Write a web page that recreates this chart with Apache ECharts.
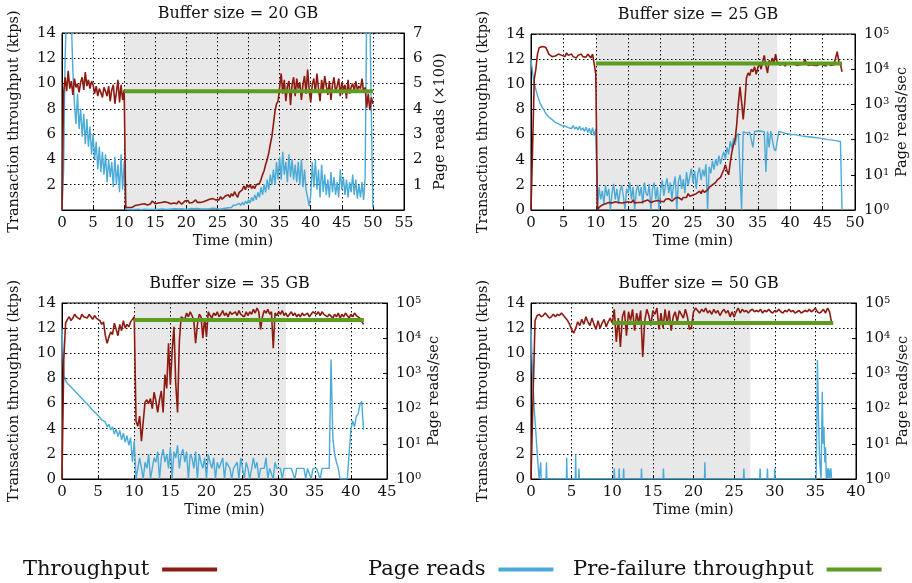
<!DOCTYPE html>
<html>
<head>
<meta charset="utf-8">
<script src="https://cdn.jsdelivr.net/npm/echarts@6/dist/echarts.min.js"></script>
<style>
  html, body { margin: 0; padding: 0; background: #fff; }
  #main { width: 912px; height: 583px; }
</style>
</head>
<body>
<div id="main"></div>
<script>
// samples every 0.25 min
var STEP = 0.25

var titles = ['Buffer size = 20 GB', 'Buffer size = 25 GB', 'Buffer size = 35 GB', 'Buffer size = 50 GB']
var timeMax = [55, 50, 45, 40]

// 20 GB: throughput (ktps) and page reads (x100)
var tp20 = [
  0, 9.2, 10.5, 9.4,  11.0, 9.6, 10.2, 9.1,  10.4, 9.7, 10.0, 9.3,  10.1, 10.5, 9.5, 10.9,
  9.8, 10.3, 9.6, 10.2,  9.9, 9.2, 9.8, 9.0,  9.6, 9.3, 8.9, 9.7,  9.4, 9.0, 9.8, 8.6,
  9.5, 9.9, 8.4, 9.3,  10.3, 8.5, 9.9, 8.7,  9.5, 0.2, 0.1, 0.2,  0.25, 0.2, 0.3, 0.35,
  0.3, 0.4, 0.35, 0.45,  0.4, 0.5, 0.45, 0.4,  0.55, 0.5, 0.7, 0.6,  0.5, 0.6, 0.55, 0.7,
  0.6, 0.5, 0.65, 0.55,  0.6, 0.7, 0.5, 0.6,  0.55, 0.65, 0.5, 0.7,  0.6, 0.45, 0.55, 0.7,
  0.6, 0.75, 0.55, 0.65,  0.6, 0.7, 0.8, 0.6,  0.7, 0.6, 0.75, 0.65,  0.6, 0.75, 0.7, 0.85,
  0.7, 0.9, 0.75, 0.8,  0.95, 0.8, 1.05, 0.85,  0.9, 1.1, 0.95, 1.2,  1.0, 1.3, 1.1, 1.45,
  1.2, 1.0, 1.4, 1.3,  1.6, 1.9, 1.6, 2.0,  1.8, 2.0, 1.7, 1.9,  1.7, 2.0, 1.9, 2.1,
  2.4, 2.8, 3.1, 3.6,  4.0, 4.5, 5.2, 5.8,  6.8, 7.8, 8.4, 8.6,  8.5, 10.8, 9.2, 10.3,
  8.6, 9.8, 10.2, 8.3,  9.9, 10.5, 9.0, 10.4,  9.6, 10.1, 8.7, 9.9,  10.6, 9.2, 11.1, 9.5,
  8.5, 9.9, 10.4, 9.3,  10.8, 9.6, 8.6, 10.3,  9.4, 10.6, 9.8, 9.1,  10.2, 8.7, 9.9, 10.5,
  9.3, 9.8, 10.4, 9.0,  10.1, 9.5, 9.9, 8.8,  10.3, 9.2, 9.7, 10.0,  9.4, 10.2, 9.5, 9.8,
  9.6, 10.4, 9.3, 9.7,  8.1, 9.2, 7.9, 8.9,  8.4
]
var pr20 = [
  0, 1.5, 6, 8,  8, 8, 7.5, 5.5,  4.2, 3.4, 4.6, 3.2,  4.0, 2.9, 3.8, 2.6,
  3.6, 2.5, 3.3, 2.2,  3.0, 2.0, 2.7, 1.6,  2.5, 1.5, 2.3, 1.4,  2.2, 1.1, 2.0, 1.3,
  1.9, 0.9, 2.1, 1.0,  1.8, 0.7, 2.2, 0.8,  1.9, 0.03, 0.0, 0.02,  0.02, 0.01, 0.03, 0.02,
  0.01, 0.03, 0.02, 0.01,  0.02, 0.03, 0.01, 0.02,  0.03, 0.02, 0.04, 0.02,  0.03, 0.02, 0.04, 0.03,
  0.02, 0.04, 0.03, 0.02,  0.04, 0.03, 0.02, 0.04,  0.03, 0.05, 0.03, 0.04,  0.03, 0.05, 0.04, 0.03,
  0.05, 0.03, 0.04, 0.06,  0.04, 0.05, 0.03, 0.06,  0.05, 0.04, 0.06, 0.04,  0.06, 0.04, 0.07, 0.05,
  0.05, 0.07, 0.04, 0.06,  0.06, 0.04, 0.08, 0.05,  0.1, 0.07, 0.12, 0.09,  0.15, 0.1, 0.18, 0.12,
  0.2, 0.14, 0.26, 0.18,  0.3, 0.2, 0.35, 0.25,  0.4, 0.28, 0.5, 0.35,  0.6, 0.4, 0.7, 0.5,
  0.9, 0.6, 1.0, 0.7,  1.2, 0.8, 1.4, 1.0,  1.6, 1.0, 1.9, 1.2,  2.1, 1.2, 2.3, 1.4,
  1.9, 1.1, 2.2, 1.3,  2.0, 1.2, 1.8, 1.1,  1.9, 1.0, 2.0, 0.9,  1.6, 0.8, 0.5, 0.15,
  0.6, 1.9, 0.9, 2.0,  0.8, 1.6, 0.5, 1.8,  0.7, 1.4, 0.6, 1.2,  0.5, 1.5, 0.7, 1.3,
  0.6, 1.1, 0.5, 1.6,  0.8, 1.3, 0.6, 1.2,  0.5, 1.1, 0.7, 1.4,  0.6, 1.2, 0.45, 1.0,
  0.5, 1.1, 0.4, 1.3,  8, 8, 8, 3.8,  0.1
]

// 25 GB: throughput (ktps) and page reads/sec
var tp25 = [
  0, 5.0, 10.4, 11.2,  12.4, 12.9, 12.8, 13.0,  12.9, 12.95, 12.7, 12.4,  12.3, 12.2, 12.35, 12.25,
  12.2, 12.4, 12.25, 12.3,  12.35, 12.2, 12.5, 12.3,  12.25, 12.4, 12.2, 12.35,  12.1, 12.3, 12.2, 12.4,
  12.2, 12.3, 12.15, 12.4,  12.25, 12.1, 12.4, 11.6,  10.8, 0.0, 0.2, 0.35,  0.4, 0.55, 0.5, 0.65,
  0.6, 0.7, 0.55, 0.7,  0.65, 0.75, 0.6, 0.7,  0.55, 0.7, 0.6, 0.5,  0.65, 0.75, 0.6, 0.8,
  0.55, 0.7, 0.6, 0.75,  0.6, 0.5, 0.7, 0.6,  0.8, 0.7, 0.6, 0.75,  0.7, 0.55, 0.75, 0.6,
  0.7, 0.8, 0.65, 0.85,  0.75, 0.9, 0.8, 0.7,  0.85, 0.95, 0.8, 1.0,  0.9, 0.8, 1.0, 1.1,
  1.0, 1.3, 1.1, 1.0,  1.2, 1.1, 1.3, 1.25,  1.5, 1.3, 1.6, 1.4,  1.5, 1.6, 1.8, 1.7,
  2.0, 1.9, 2.2, 2.4,  2.3, 2.6, 2.9, 3.2,  3.6, 3.1, 2.8, 3.8,  4.6, 5.2, 5.6, 6.8,
  8.5, 9.8, 8.6, 7.2,  8.6, 10.5, 10.9, 10.7,  11.2, 11.0, 11.4, 10.8,  11.3, 11.7, 11.2, 11.8,
  12.3, 11.5, 10.9, 11.9,  11.6, 12.1, 11.7, 12.4,  11.7, 11.6, 11.5, 11.7,  11.6, 11.45, 11.7, 11.55,
  11.6, 11.5, 11.7, 11.6,  11.5, 11.65, 11.55, 11.7,  11.6, 12.0, 11.7, 11.5,  11.6, 11.55, 11.7, 11.5,
  11.65, 11.5, 11.6, 11.75,  11.55, 11.6, 11.45, 11.7,  11.6, 11.5, 11.65, 11.55,  11.7, 12.6, 11.8, 11.6,
  11.0
]
var pr25 = [
  19000, 8000, 4000, 2600,  1800, 1300, 1000, 820,  700, 560, 540, 440,  430, 370, 380, 310,
  330, 280, 300, 250,  275, 240, 260, 220,  245, 205, 250, 200,  230, 190, 240, 185,
  215, 170, 225, 160,  210, 140, 220, 130,  200, 1, 4.5, 2,  3.5, 1.5, 5, 2.5,
  4, 1, 3, 5.5,  2, 4, 1.5, 3.5,  5, 2.5, 1, 4,  3, 6, 2, 4.5,
  1, 3.5, 5, 2.5,  4.5, 1.5, 6, 3,  2.5, 5.5, 1, 4,  6, 2, 4.5, 1,
  3.5, 7, 2.5, 5,  8, 3, 6, 2,  5, 9, 1, 6.5,  10, 4, 7.5, 3,
  12, 5, 9, 15,  6, 13, 4, 11,  16, 7, 14, 9,  20, 1, 17, 11,
  25, 14, 28, 18,  35, 20, 32, 45,  28, 60, 38, 90,  55, 110, 70, 130,
  150, 160, 1, 165,  170, 155, 175, 160,  165, 60, 170, 158,  175, 160, 172, 165,
  168, 12, 170, 60,  175, 160, 55, 48,  50, 170, 175, 160,  165, 150, 162, 145,
  155, 140, 150, 138,  145, 132, 150, 128,  140, 125, 135, 120,  132, 118, 128, 115,
  125, 112, 120, 108,  118, 105, 115, 100,  110, 98, 106, 95,  104, 92, 100, 88,
  1
]

// 35 GB
var tp35 = [
  0, 9.5, 12.4, 12.7,  12.9, 12.6, 12.8, 13.1,  12.9, 13.0, 12.7, 13.1,  12.9, 13.0, 12.8, 13.1,
  12.9, 12.7, 13.0, 12.8,  12.9, 12.6, 12.3, 12.5,  11.4, 10.8, 11.3, 11.7,  11.5, 12.4, 11.9, 11.4,
  12.3, 11.8, 12.6, 12.0,  12.3, 12.1, 12.5, 12.7,  12.9, 4.6, 4.2, 5.0,  3.0, 4.6, 6.1, 6.3,
  6.0, 6.4, 5.6, 6.9,  6.2, 5.3, 6.3, 7.0,  5.3, 8.3, 7.2, 10.8,  7.5, 10.2, 12.1, 7.6,
  5.3, 11.0, 12.9, 13.0,  12.7, 13.2, 12.9, 13.3,  13.0, 12.6, 10.8, 12.3,  13.1, 12.9, 11.2, 12.8,
  11.3, 13.3, 13.0, 12.8,  13.2, 13.0, 13.3, 12.9,  13.1, 13.4, 13.0, 13.2,  12.9, 13.3, 13.1, 13.0,
  13.3, 13.0, 13.4, 13.1,  13.2, 12.9, 13.3, 13.0,  13.3, 13.1, 13.5, 13.2,  13.6, 13.3, 11.9, 12.9,
  13.4, 13.2, 13.5, 13.1,  13.3, 10.4, 13.2, 13.0,  13.3, 13.1, 13.4, 13.0,  13.2, 12.9, 13.1, 13.3,
  13.0, 13.2, 12.9, 13.1,  12.9, 13.2, 13.0, 13.1,  13.2, 12.9, 13.1, 13.3,  13.2, 13.1, 13.3, 13.0,
  13.3, 13.1, 13.2, 12.9,  13.1, 13.0, 12.8, 13.1,  12.9, 13.2, 12.8, 13.1,  12.9, 13.2, 13.0, 12.8,
  13.1, 12.9, 13.2, 13.0,  13.1, 12.8, 12.9, 12.3
]
var pr35 = [
  19000, 900, 620, 520,  470, 410, 360, 320,  280, 250, 220, 195,  170, 150, 135, 118,
  105, 90, 80, 72,  64, 55, 48, 44,  42, 30, 36, 25,  30, 19, 26, 16,
  24, 13, 20, 11,  17, 9, 15, 3,  12, 1, 2, 4,  2, 1, 3, 2,
  5, 1, 2, 4,  3, 6, 1, 4,  7, 3, 5, 2,  8, 1, 6, 4,
  9, 2, 5, 7,  3, 6, 1, 5,  4, 2, 6, 1,  5, 3, 2, 4,
  1, 5, 3, 2,  4, 1, 3, 2,  2, 4, 1, 3,  3, 2, 1, 2,
  2, 3, 1, 4,  2, 1, 3, 2,  1, 2, 4, 2,  3, 1, 2, 2,
  2, 4, 1, 2,  2, 1, 3, 2,  2, 2, 1, 2,  2, 2, 2, 2,
  2, 1, 2, 2,  2, 2, 2, 1,  2, 2, 1, 2,  2, 2, 2, 1,
  2, 2, 2, 2,  2, 2500, 15, 5,  3, 2, 1, 1,  1, 1, 1, 5,
  25, 45, 30, 60,  70, 130, 160, 25
]

// 50 GB
var tp50 = [
  0, 6.5, 12.6, 13.0,  13.1, 12.9, 13.0, 13.2,  13.0, 12.8, 12.9, 13.1,  12.9, 13.1, 13.0, 13.2,
  13.0, 12.8, 12.6, 12.3,  11.9, 11.6, 12.0, 12.5,  12.2, 12.7, 12.3, 12.9,  12.5, 12.2, 12.8, 12.3,
  11.9, 12.6, 12.0, 12.4,  12.7, 12.1, 12.5, 12.8,  12.4, 13.5, 10.9, 12.8,  10.5, 12.9, 13.4, 11.4,
  13.3, 12.6, 13.5, 11.8,  13.2, 12.4, 13.4, 9.7,  12.6, 13.5, 13.0, 12.2,  13.4, 13.1, 13.6, 11.9,
  13.2, 12.0, 13.5, 12.3,  13.4, 11.8, 12.9, 13.3,  12.5, 13.4, 13.1, 12.8,  13.5, 12.9, 11.9, 12.1,
  13.3, 13.6, 13.4, 13.2,  13.5, 13.3, 13.6, 13.2,  13.4, 13.1, 13.5, 13.2,  13.4, 13.0, 13.3, 13.5,
  13.2, 13.4, 12.9, 13.3,  12.9, 13.3, 13.6, 13.2,  13.5, 13.3, 13.4, 13.2,  13.4, 13.5, 13.3, 13.4,
  13.3, 13.5, 13.2, 13.4,  13.3, 13.5, 13.3, 13.2,  13.4, 13.3, 13.5, 13.3,  13.2, 13.4, 13.3, 13.5,
  13.3, 13.4, 13.2, 13.3,  13.4, 13.2, 13.3, 13.4,  13.3, 13.5, 13.3, 13.4,  13.6, 13.3, 13.2, 13.3,
  13.5, 13.2, 13.6, 13.3,  12.4
]
// sparse, so [min, page reads/sec]
var pr50 = [
  [0, 19000], [0.2, 800], [0.4, 100], [0.6, 20], [0.75, 6], [0.9, 2], [1.0, 1], [1.15, 1], [1.2, 3], [1.25, 1],
  [1.85, 1], [1.9, 3], [1.95, 1], [4.35, 1], [4.4, 4], [4.45, 1], [5.45, 1], [5.5, 5], [5.55, 1],
  [5.85, 1], [5.9, 2], [5.95, 1], [10.2, 1], [10.25, 2], [10.3, 1], [10.8, 1], [10.85, 2], [10.9, 1],
  [11.35, 1], [11.4, 2], [11.45, 1], [13.55, 1], [13.6, 2], [13.65, 1], [16.25, 1], [16.3, 2], [16.35, 1],
  [21.35, 1], [21.4, 3], [21.45, 1], [26.15, 1], [26.2, 2], [26.25, 1], [28.15, 1], [28.2, 2], [28.25, 1],
  [29.05, 1], [29.1, 2], [29.15, 1], [29.95, 1], [30.0, 2], [30.05, 1], [35.1, 1], [35.25, 2400], [35.4, 40],
  [35.5, 5], [35.6, 2], [35.7, 1], [35.85, 300], [35.95, 10], [36.05, 30], [36.15, 3], [36.25, 8], [36.35, 1],
  [36.45, 2], [36.55, 1], [36.65, 2], [36.75, 1], [36.9, 2], [37, 1]
]

// pre-failure throughput level and failure window, per panel
var pre20 = [[10, 9.4], [50, 9.4]]
var pre25 = [[10, 11.65], [48, 11.65]]
var pre35 = [[10, 12.65], [41.8, 12.65]]
var pre50 = [[10, 12.4], [37.2, 12.4]]
var shade20 = [10, 39.7]
var shade25 = [10, 38]
var shade35 = [10, 31]
var shade50 = [10, 27]

var FONT = 'DejaVu Serif'
var RED = '#8e1b11'
var BLUE = '#4aaad8'
var GREEN = '#5c9c20'
var SHADE = '#e7e8e7'

function stepped(values) {
  return values.map(function(v, i) { return [i * STEP, v] })
}

var panels = [
  { grid: { left: 62, top: 33, width: 342, height: 177 }, tp: tp20, pr: stepped(pr20), pre: pre20, shade: shade20, log: false },
  { grid: { left: 531, top: 34, width: 324, height: 176 }, tp: tp25, pr: stepped(pr25), pre: pre25, shade: shade25, log: true },
  { grid: { left: 62, top: 303, width: 325, height: 176 }, tp: tp35, pr: stepped(pr35), pre: pre35, shade: shade35, log: true },
  { grid: { left: 531, top: 303, width: 325, height: 176 }, tp: tp50, pr: pr50, pre: pre50, shade: shade50, log: true }
]

var option = {
  animation: false,
  backgroundColor: '#fff',
  title: [],
  grid: [],
  xAxis: [],
  yAxis: [],
  series: [],
  legend: []
}

var tickLabel = { fontFamily: FONT, fontSize: 15, color: '#111' }
var nameText = { fontFamily: FONT, fontSize: 14.5, color: '#111' }

panels.forEach(function(p, i) {
  var g = p.grid
  option.grid.push({ left: g.left, top: g.top, width: g.width, height: g.height, show: true, borderColor: '#000', borderWidth: 1, z: 2 })
  option.title.push({
    text: titles[i],
    left: g.left + g.width / 2,
    top: g.top - 32,
    textAlign: 'center',
    textStyle: { fontFamily: FONT, fontSize: 16, fontWeight: 'normal', color: '#111' }
  })
  option.xAxis.push({
    type: 'value', gridIndex: i, min: 0, max: timeMax[i], interval: 5, z: 2,
    name: 'Time (min)', nameLocation: 'middle', nameGap: 24, nameTextStyle: nameText,
    axisLine: { show: true, lineStyle: { color: '#000' } },
    axisTick: { inside: true, length: 4, lineStyle: { color: '#000' } },
    axisLabel: Object.assign({ margin: 6 }, tickLabel),
    splitLine: { show: true, lineStyle: { color: '#000', type: [1.5, 2.5], width: 1 } }
  })
  option.yAxis.push({
    type: 'value', gridIndex: i, min: 0, max: 14, interval: 2, z: 2, position: 'left',
    name: 'Transaction throughput (ktps)', nameLocation: 'middle', nameGap: 40, nameRotate: 90, nameTextStyle: nameText,
    axisLine: { show: true, lineStyle: { color: '#000' } },
    axisTick: { inside: true, length: 4, lineStyle: { color: '#000' } },
    axisLabel: Object.assign({ margin: 6, showMinLabel: i !== 0 }, tickLabel),
    splitLine: { show: true, lineStyle: { color: '#000', type: [1.5, 2.5], width: 1 } }
  })
  var right = {
    gridIndex: i, position: 'right', z: 2,
    nameLocation: 'middle', nameRotate: 90, nameTextStyle: nameText,
    axisLine: { show: true, lineStyle: { color: '#000' } },
    axisTick: { show: true, inside: true, length: 4, lineStyle: { color: '#000' } },
    splitLine: { show: false }
  }
  if (p.log) {
    Object.assign(right, {
      type: 'log', logBase: 10, min: 1, max: 100000,
      name: 'Page reads/sec', nameGap: 40,
      axisLabel: {
        margin: 9,
        formatter: function(v) { return '{b|10}{s|' + Math.round(Math.log10(v)) + '}' },
        rich: {
          b: { fontFamily: FONT, fontSize: 15, color: '#111' },
          s: { fontFamily: FONT, fontSize: 10, color: '#111', verticalAlign: 'top' }
        }
      }
    })
  } else {
    Object.assign(right, {
      type: 'value', min: 0, max: 7, interval: 1,
      name: 'Page reads (\u00d7100)', nameGap: 29,
      axisLabel: Object.assign({ margin: 9, showMinLabel: false }, tickLabel)
    })
  }
  option.yAxis.push(right)

  var left = i * 2
  option.series.push({
    name: 'shade', type: 'line', xAxisIndex: i, yAxisIndex: left, data: [], z: 1, silent: true,
    markArea: { silent: true, itemStyle: { color: SHADE }, data: [[{ xAxis: p.shade[0] }, { xAxis: p.shade[1] }]] }
  })
  option.series.push({
    name: 'Page reads', type: 'line', xAxisIndex: i, yAxisIndex: left + 1, data: p.pr, z: 3,
    symbol: 'none', color: BLUE, lineStyle: { color: BLUE, width: 1.4 }
  })
  option.series.push({
    name: 'Throughput', type: 'line', xAxisIndex: i, yAxisIndex: left, data: stepped(p.tp), z: 4,
    symbol: 'none', color: RED, lineStyle: { color: RED, width: 1.6 }
  })
  option.series.push({
    name: 'Pre-failure throughput', type: 'line', xAxisIndex: i, yAxisIndex: left, data: p.pre, z: 5,
    symbol: 'none', color: GREEN, lineStyle: { color: GREEN, width: 4 }
  })
})

var legendText = { fontFamily: FONT, fontSize: 21, color: '#111', padding: [0, 8, 0, 0] }
var legendItems = [['Throughput', 18], ['Page reads', 363], ['Pre-failure throughput', 568]]
legendItems.forEach(function(it) {
  option.legend.push({
    data: [it[0]], left: it[1], top: 554, align: 'right', icon: 'rect',
    itemWidth: 55, itemHeight: 4, textStyle: legendText, selectedMode: false
  })
})

var chart = echarts.init(document.getElementById('main'))
chart.setOption(option)
</script>
</body>
</html>
